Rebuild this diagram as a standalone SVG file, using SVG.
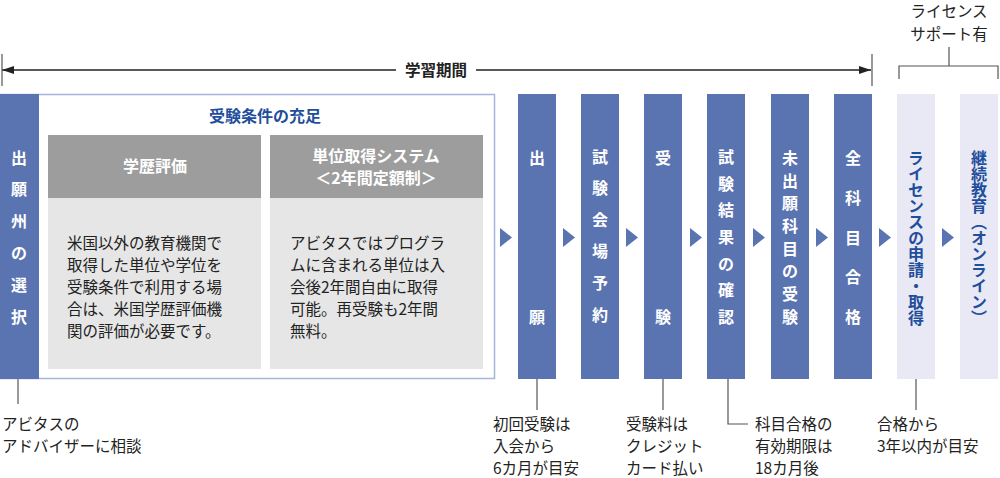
<svg xmlns="http://www.w3.org/2000/svg" width="1000" height="478" viewBox="0 0 1000 478">
<style>
text{font-family:"Noto Sans CJK JP","Noto Sans",sans-serif;}
.col{fill:#5a73b1;}
.lt{fill:#e8e9f4;}
.wt{fill:#fff;font-size:16px;font-weight:bold;text-anchor:middle;}
.bt{fill:#1f4e9c;font-size:16px;font-weight:bold;}
.lbl{fill:#222;font-size:15.5px;}
.ln{stroke:#555;stroke-width:1.2;fill:none;}
.tri{fill:#5a73b1;}
.hd{fill:#9d9d9d;}
.bd{fill:#e6e6e6;}
.body{fill:#222;font-size:15.5px;}
</style>
<defs><marker id="ah" markerWidth="12" markerHeight="8" refX="12" refY="4" orient="auto-start-reverse" markerUnits="userSpaceOnUse"><path d="M0,0 L12,4 L0,8 Z" fill="#222"/></marker></defs>
<g id="connectors">
<line x1="2" y1="70" x2="871" y2="70" stroke="#222" stroke-width="1.3" marker-start="url(#ah)" marker-end="url(#ah)"/>
<line x1="2" y1="54" x2="2" y2="86" class="ln"/>
<line x1="872" y1="54" x2="872" y2="86" class="ln"/>
<rect x="396" y="60" width="80" height="20" fill="#fff"/>
<text x="436" y="76" class="lbl" text-anchor="middle" font-weight="bold" font-size="16">学習期間</text>
<path d="M899,79 V66 H998 V79 M949,66 V47" class="ln"/>
<line x1="18" y1="378" x2="18" y2="404" class="ln"/>
<line x1="537" y1="378" x2="537" y2="410" class="ln"/>
<line x1="663" y1="378" x2="663" y2="410" class="ln"/>
<path d="M728,378 V424 H748" class="ln"/>
<line x1="916" y1="378" x2="916" y2="410" class="ln"/>
<g class="tri">
<path d="M500,228 L512,237.5 L500,247Z"/><path d="M563,228 L575,237.5 L563,247Z"/><path d="M626,228 L638,237.5 L626,247Z"/><path d="M690,228 L702,237.5 L690,247Z"/><path d="M753,228 L765,237.5 L753,247Z"/><path d="M816,228 L828,237.5 L816,247Z"/><path d="M879,228 L891,237.5 L879,247Z"/><path d="M942,228 L954,237.5 L942,247Z"/>
</g>
</g>
<g id="support"><text x="949" y="17" class="lbl" text-anchor="middle">ライセンス</text><text x="949" y="40" class="lbl" text-anchor="middle">サポート有</text></g>
<g id="requirements">
<rect x="0.5" y="94.5" width="494" height="284" fill="#fff" stroke="#a7b5d9" stroke-width="1.5"/>
<rect x="0" y="94" width="39" height="285" class="col"/>
<text class="wt"><tspan x="19" y="164">出</tspan><tspan x="19" y="195">願</tspan><tspan x="19" y="227">州</tspan><tspan x="19" y="259">の</tspan><tspan x="19" y="291">選</tspan><tspan x="19" y="323">択</tspan></text>
<text x="265" y="122" class="bt" text-anchor="middle">受験条件の充足</text>
<rect x="48" y="135" width="213" height="63" class="hd"/><rect x="48" y="198" width="213" height="171" class="bd"/>
<text x="155" y="172" class="wt" font-size="15.5">学歴評価</text>
<text class="body"><tspan x="67" y="249">米国以外の教育機関で</tspan><tspan x="67" y="271">取得した単位や学位を</tspan><tspan x="67" y="293">受験条件で利用する場</tspan><tspan x="67" y="315">合は、米国学歴評価機</tspan><tspan x="67" y="337">関の評価が必要です。</tspan></text>
<rect x="270" y="135" width="213" height="63" class="hd"/><rect x="270" y="198" width="213" height="171" class="bd"/>
<text class="wt" font-size="15.5"><tspan x="376" y="162">単位取得システム</tspan><tspan x="376" y="184">＜2年間定額制＞</tspan></text>
<text class="body"><tspan x="290" y="249">アビタスではプログラ</tspan><tspan x="290" y="271">ムに含まれる単位は入</tspan><tspan x="290" y="293">会後2年間自由に取得</tspan><tspan x="290" y="315">可能。再受験も2年間</tspan><tspan x="290" y="337">無料。</tspan></text>
<text class="lbl"><tspan x="2" y="430">アビタスの</tspan><tspan x="2" y="452">アドバイザーに相談</tspan></text>
</g>
<g id="s1"><rect x="518" y="94" width="38" height="285" class="col"/><text class="wt"><tspan x="537" y="164">出</tspan><tspan x="537" y="323">願</tspan></text>
<text class="lbl"><tspan x="493" y="430">初回受験は</tspan><tspan x="493" y="452">入会から</tspan><tspan x="493" y="474">6カ月が目安</tspan></text></g>
<g id="s2"><rect x="581" y="94" width="38" height="285" class="col"/><text class="wt"><tspan x="600" y="163">試</tspan><tspan x="600" y="194">験</tspan><tspan x="600" y="226">会</tspan><tspan x="600" y="257">場</tspan><tspan x="600" y="289">予</tspan><tspan x="600" y="321">約</tspan></text></g>
<g id="s3"><rect x="644" y="94" width="38" height="285" class="col"/><text class="wt"><tspan x="663" y="164">受</tspan><tspan x="663" y="323">験</tspan></text>
<text class="lbl"><tspan x="626" y="430">受験料は</tspan><tspan x="626" y="452">クレジット</tspan><tspan x="626" y="474">カード払い</tspan></text></g>
<g id="s4"><rect x="707" y="94" width="38" height="285" class="col"/><text class="wt"><tspan x="726" y="163">試</tspan><tspan x="726" y="190">験</tspan><tspan x="726" y="216">結</tspan><tspan x="726" y="243">果</tspan><tspan x="726" y="270">の</tspan><tspan x="726" y="296">確</tspan><tspan x="726" y="323">認</tspan></text>
<text class="lbl"><tspan x="755" y="430">科目合格の</tspan><tspan x="755" y="452">有効期限は</tspan><tspan x="755" y="474">18カ月後</tspan></text></g>
<g id="s5"><rect x="771" y="94" width="38" height="285" class="col"/><text class="wt"><tspan x="790" y="164">未</tspan><tspan x="790" y="187">出</tspan><tspan x="790" y="209">願</tspan><tspan x="790" y="232">科</tspan><tspan x="790" y="255">目</tspan><tspan x="790" y="277">の</tspan><tspan x="790" y="300">受</tspan><tspan x="790" y="323">験</tspan></text></g>
<g id="s6"><rect x="834" y="94" width="38" height="285" class="col"/><text class="wt"><tspan x="853" y="164">全</tspan><tspan x="853" y="204">科</tspan><tspan x="853" y="244">目</tspan><tspan x="853" y="283">合</tspan><tspan x="853" y="323">格</tspan></text></g>
<g id="s7"><rect x="897" y="94" width="38" height="285" class="lt"/><text x="916" y="150" class="bt" style="writing-mode:vertical-rl" font-size="16.5">ライセンスの申請・取得</text>
<text class="lbl"><tspan x="877" y="430">合格から</tspan><tspan x="877" y="452">3年以内が目安</tspan></text></g>
<g id="s8"><rect x="960" y="94" width="38" height="285" class="lt"/><text x="979" y="150" class="bt" style="writing-mode:vertical-rl" font-size="16.5">継続教育（オンライン）</text></g>
</svg>
